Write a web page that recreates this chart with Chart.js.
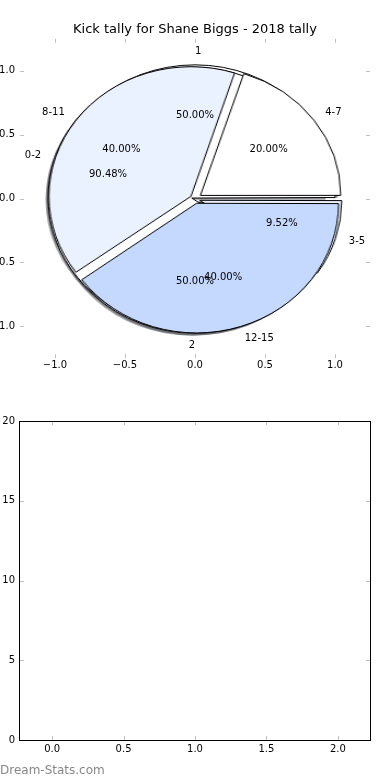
<!DOCTYPE html>
<html>
<head>
<meta charset="utf-8">
<script src="https://cdn.jsdelivr.net/npm/chart.js@4.4.1/dist/chart.umd.min.js"></script>
<style>
  html, body { margin: 0; padding: 0; background: #fff; overflow: hidden; }
  body { width: 390px; height: 780px; position: relative; font-family: "DejaVu Sans", sans-serif; }
  canvas { position: absolute; }
  #pieA { z-index: 1; } #pieB { z-index: 2; } #pieC { z-index: 3; }
  #axisTop { left: -20px; top: 0; z-index: 5; }
  #axisBottom { left: -20px; top: 390px; }
  #brand { position: absolute; left: 0; top: 763px; font-size: 12px; line-height: 14px; color: #888; }
</style>
</head>
<body>
<canvas id="pieA" width="340" height="340"></canvas>
<canvas id="pieB" width="340" height="340"></canvas>
<canvas id="pieC" width="340" height="340"></canvas>
<canvas id="axisTop" width="430" height="390"></canvas>
<canvas id="axisBottom" width="430" height="390"></canvas>
<div id="brand">Dream-Stats.com</div>
<script>
const titleText = "Kick tally for Shane Biggs - 2018 tally";

// three pies stacked on the same axes
const kickLabels = ["1", "2"];
const kickValues = [1, 1];
const marginLabels = ["0-2", "3-5"];
const marginValues = [19, 2];
const rangeLabels = ["4-7", "8-11", "12-15"];
const rangeValues = [1, 2, 2];

const sliceColors = ["#ffffff", "#eaf1ff", "#c5d8fd"];

// tick labels
const pieTicks = [-1, -0.5, 0, 0.5, 1];
const barXTicks = [0, 0.5, 1, 1.5, 2];
const barYTicks = [0, 5, 10, 15, 20];

const explode = 0.05;
const pies = [
  { id: "pieA", labels: kickLabels, values: kickValues },
  { id: "pieB", labels: marginLabels, values: marginValues },
  { id: "pieC", labels: rangeLabels, values: rangeValues }
];

Chart.defaults.font.family = "DejaVu Sans";
Chart.defaults.font.size = 10;
Chart.defaults.color = "#000";

const fmt1 = v => (v < 0 ? "\u2212" : "") + Math.abs(v).toFixed(1);
const sum = a => a.reduce((s, v) => s + v, 0);

// matplotlib style: grey ticks pointing inwards on every side
const innerTicks = {
  id: "innerTicks",
  afterDraw(chart, args, opts) {
    const { ctx, chartArea: a, scales: { x, y } } = chart;
    ctx.save();
    ctx.strokeStyle = "#c0c0c0";
    ctx.lineWidth = 1;
    ctx.beginPath();
    x.ticks.forEach(t => {
      const px = Math.round(x.getPixelForValue(t.value)) + 0.5;
      ctx.moveTo(px, a.bottom); ctx.lineTo(px, a.bottom - 4);
      ctx.moveTo(px, a.top); ctx.lineTo(px, a.top + 4);
    });
    y.ticks.forEach(t => {
      const py = Math.round(y.getPixelForValue(t.value)) + 0.5;
      ctx.moveTo(a.left, py); ctx.lineTo(a.left + 4, py);
      ctx.moveTo(a.right, py); ctx.lineTo(a.right - 4, py);
    });
    ctx.stroke();
    if (opts.frame) {
      ctx.strokeStyle = "#000";
      ctx.strokeRect(a.left - 0.5, a.top + 0.5, a.right - a.left + 1, a.bottom - a.top);
    }
    ctx.restore();
  }
};

// slice labels and percentages, placed in data space like pyplot.pie
const pieText = {
  id: "pieText",
  afterDraw(chart) {
    const { ctx, scales: { x, y } } = chart;
    ctx.save();
    ctx.font = "10px 'DejaVu Sans'";
    ctx.fillStyle = "#000";
    ctx.textBaseline = "middle";
    pies.forEach(p => {
      const total = sum(p.values);
      let acc = 0;
      p.values.forEach((v, i) => {
        const mid = 2 * Math.PI * (acc + v / 2) / total;
        acc += v;
        const c = Math.cos(mid), s = Math.sin(mid);
        const ox = explode * c, oy = explode * s;
        ctx.textAlign = c > 0 ? "left" : "right";
        ctx.fillText(p.labels[i], x.getPixelForValue(ox + 1.1 * c), y.getPixelForValue(oy + 1.1 * s));
        ctx.textAlign = "center";
        ctx.fillText((100 * v / total).toFixed(2) + "%", x.getPixelForValue(ox + 0.6 * c), y.getPixelForValue(oy + 0.6 * s));
      });
    });
    ctx.restore();
  }
};

const topChart = new Chart(document.getElementById("axisTop"), {
  type: "scatter",
  data: { datasets: [] },
  options: {
    responsive: false, devicePixelRatio: 1, animation: false, events: [],
    layout: { padding: { left: 0, right: 40, top: 0, bottom: 0 } },
    plugins: {
      legend: { display: false }, tooltip: { enabled: false },
      title: {
        display: true, text: titleText, color: "#000", fullSize: false,
        font: { size: 13, weight: "normal" },
        padding: { top: 21.4, bottom: 1.8 }
      }
    },
    scales: {
      x: {
        type: "linear", min: -1.25, max: 1.25,
        grid: { display: false, drawTicks: false }, border: { display: false },
        afterBuildTicks: s => { s.ticks = pieTicks.map(v => ({ value: v })); },
        afterFit: s => { s.height = 31.8; },
        ticks: { padding: 1.5, maxRotation: 0, autoSkip: false, callback: fmt1 }
      },
      y: {
        type: "linear", min: -1.25, max: 1.25,
        grid: { display: false, drawTicks: false }, border: { display: false },
        afterBuildTicks: s => { s.ticks = pieTicks.map(v => ({ value: v })); },
        afterFit: s => { s.width = 40; },
        ticks: { padding: 5, autoSkip: false, callback: fmt1 }
      }
    }
  },
  plugins: [innerTicks, pieText]
});

// pie geometry comes from the axes above
const xs = topChart.scales.x, ys = topChart.scales.y;
const centerX = xs.getPixelForValue(0) - 20;
const centerY = ys.getPixelForValue(0);
const rx = xs.getPixelForValue(1) - xs.getPixelForValue(0);
const ry = ys.getPixelForValue(0) - ys.getPixelForValue(1);
const shadowShift = 0.02 * ry;

const pieCharts = [];

// all shadows sit under all wedges, so they go on the lowest canvas
const pieShadow = {
  id: "pieShadow",
  beforeDatasetsDraw(chart) {
    const ctx = chart.ctx;
    ctx.save();
    ctx.fillStyle = "rgba(60,64,72,0.5)";
    pieCharts.forEach(pc => {
      pc.getDatasetMeta(0).data.forEach(arc => {
        const { x, y, startAngle, endAngle, outerRadius } = arc;
        const mid = (startAngle + endAngle) / 2;
        const circ = endAngle - startAngle;
        const off = (arc.options.offset || 0) / 4 * (2 - Math.sin(Math.min(Math.PI, circ)));
        const sx = x + Math.cos(mid) * off - shadowShift;
        const sy = y + Math.sin(mid) * off + shadowShift;
        ctx.beginPath();
        ctx.moveTo(sx, sy);
        ctx.arc(sx, sy, outerRadius, startAngle, endAngle);
        ctx.closePath();
        ctx.fill();
      });
    });
    ctx.restore();
  }
};

pies.forEach((p, k) => {
  const el = document.getElementById(p.id);
  el.style.left = (centerX - 170) + "px";
  el.style.top = (centerY - 170) + "px";
  el.style.transform = "scaleX(" + (rx / ry) + ")";
  const total = sum(p.values);
  // chart.js goes clockwise, pyplot counter-clockwise: reverse the slices
  const order = p.values.map((_, i) => i).reverse();
  pieCharts.push(new Chart(el, {
    type: "pie",
    data: {
      labels: order.map(i => p.labels[i]),
      datasets: [{
        data: order.map(i => p.values[i]),
        backgroundColor: order.map(i => sliceColors[i]),
        borderColor: "#000",
        borderWidth: 1,
        offset: c => {
          const ang = 2 * Math.PI * c.dataset.data[c.dataIndex] / total;
          return 4 * explode * ry / (2 - Math.sin(Math.min(Math.PI, ang)));
        }
      }]
    },
    options: {
      responsive: false, devicePixelRatio: 1, animation: false, events: [],
      rotation: 90, radius: ry,
      layout: { padding: 0 },
      plugins: { legend: { display: false }, tooltip: { enabled: false } }
    },
    plugins: k === 0 ? [pieShadow] : []
  }));
});
pieCharts[0].draw();

// empty bar axes underneath
new Chart(document.getElementById("axisBottom"), {
  type: "scatter",
  data: { datasets: [] },
  options: {
    responsive: false, devicePixelRatio: 1, animation: false, events: [],
    layout: { padding: { left: 0, right: 40, top: 31, bottom: 0 } },
    plugins: { legend: { display: false }, tooltip: { enabled: false }, innerTicks: { frame: true } },
    scales: {
      x: {
        type: "linear", min: -0.225, max: 2.225,
        grid: { display: false, drawTicks: false }, border: { display: false },
        afterBuildTicks: s => { s.ticks = barXTicks.map(v => ({ value: v })); },
        afterFit: s => { s.height = 40; },
        ticks: { padding: 3, maxRotation: 0, autoSkip: false, callback: fmt1 }
      },
      y: {
        type: "linear", min: 0, max: 20,
        grid: { display: false, drawTicks: false }, border: { display: false },
        afterBuildTicks: s => { s.ticks = barYTicks.map(v => ({ value: v })); },
        afterFit: s => { s.width = 40; },
        ticks: { padding: 5, autoSkip: false, callback: v => String(v) }
      }
    }
  },
  plugins: [innerTicks]
});
</script>
</body>
</html>
